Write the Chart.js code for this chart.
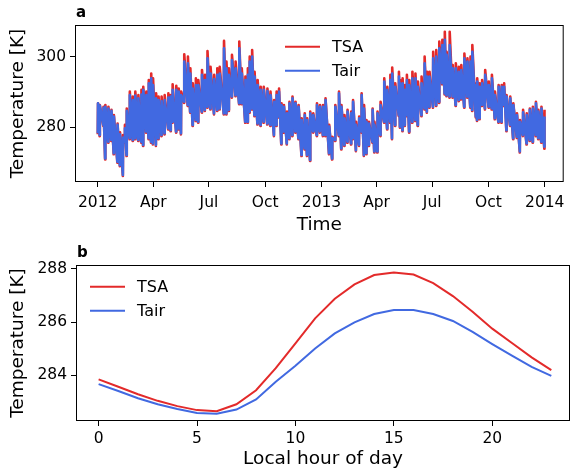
<!DOCTYPE html>
<html>
<head>
<meta charset="utf-8">
<script src="https://cdn.jsdelivr.net/npm/chart.js@4.4.1/dist/chart.umd.min.js"></script>
<style>
  body { margin: 0; background: #fff; }
  #wrap { position: relative; width: 571px; height: 470px; }
  canvas { position: absolute; left: 0; }
</style>
</head>
<body>
<div id="wrap">
  <canvas id="topChart" width="571" height="236" style="top:0"></canvas>
  <canvas id="bottomChart" width="571" height="234" style="top:236px"></canvas>
</div>
<script>
const days = [0,3,9,12,17,22,26,32,36,41,
  44,47,52,57,61,66,71,74,79,83,
  87,90,95,99,104,109,115,119,122,128,
  132,136,141,147,151,155,160,164,170,175,
  179,184,190,195,199,206,210,214,219,225,
  231,235,241,245,248,252,256,261,266,271,
  277,282,288,292,296,300,304,309,313,318,
  323,328,333,338,342,347,352,358,363,368,
  372,378,383,388,394,398,403,408,414,417,
  422,427,431,435,439,443,449,452,457,462,
  468,473,478,481,486,492,494,498,502,505,
  509,514,519,523,529,534,538,542,548,553,
  558,563,567,570,575,580,585,590,594,599,
  604,609,612,618,620,624,628,633,639,644,
  649,655,660,664,668,674,679,685,690,695,
  701,706,711,716,720,725,730];

const tsaMax = [286.8,286.3,285.8,286.3,285.8,284.9,283.4,281.0,278.5,277.7,
  280.6,285.3,290.1,288.7,290.1,289.1,290.6,291.5,290.1,293.4,
  295.3,293.9,289.6,288.7,288.7,289.1,289.6,289.1,292.2,291.8,
  291.0,290.1,300.8,300.1,296.8,292.5,293.9,293.4,296.3,294.9,
  301.7,297.2,294.9,296.8,297.2,304.6,298.7,296.8,300.6,298.7,
  304.4,296.8,294.4,296.8,300.1,302.0,295.8,293.4,291.5,291.5,
  291.0,290.1,287.7,290.1,291.0,286.8,286.3,284.4,287.2,288.7,
  287.2,286.3,282.5,283.9,282.5,284.4,283.9,286.8,286.3,286.3,
  288.2,280.6,277.2,286.3,290.1,286.3,283.4,284.9,284.4,287.7,
  281.5,283.0,289.6,286.3,282.0,281.5,285.3,281.5,284.4,287.2,
  293.9,291.5,294.9,297.0,292.5,295.8,293.4,293.9,292.0,294.9,
  293.4,295.8,295.3,293.0,294.4,300.1,295.8,295.8,301.5,302.0,
  304.4,304.9,307.2,301.5,307.2,297.7,298.2,297.2,297.7,301.0,
  299.6,300.1,303.4,292.5,293.9,292.5,293.4,296.3,293.0,294.9,
  290.1,292.0,292.0,292.5,289.1,288.7,286.8,283.9,282.0,284.9,
  283.9,285.3,285.8,287.2,284.9,285.8,284.9];

const tsaMin = [277.9,277.4,280.3,270.7,275.5,276.0,272.2,269.8,268.8,266.0,
  275.5,271.7,276.5,276.0,276.5,276.0,275.5,274.6,278.4,276.5,
  275.5,275.0,274.6,276.5,277.4,277.9,279.3,278.8,281.2,278.4,
  279.3,277.9,286.9,286.0,284.1,280.3,281.7,281.2,284.1,284.6,
  285.5,285.0,283.6,284.6,285.0,283.6,283.6,284.6,288.4,288.8,
  286.5,286.5,281.2,281.2,284.1,285.0,283.1,280.7,280.3,281.2,
  280.7,280.3,277.4,280.3,282.7,275.0,278.4,275.0,276.5,277.4,
  278.4,276.5,271.7,273.6,271.7,270.3,278.4,277.4,278.4,277.4,
  277.4,272.2,270.7,276.0,277.4,273.6,274.6,275.5,275.0,276.5,
  273.1,274.6,278.4,271.7,272.2,274.6,275.5,272.7,272.7,277.4,
  281.2,279.3,281.2,276.5,280.3,283.1,279.8,278.8,280.3,283.1,
  278.4,281.2,281.7,280.3,283.1,285.0,284.1,285.5,285.5,286.0,
  286.9,292.2,289.3,288.8,288.4,288.4,286.0,287.4,287.9,285.5,
  288.4,285.5,284.6,282.7,281.7,282.2,286.0,285.0,285.5,285.0,
  282.2,281.2,281.2,286.0,278.8,280.3,276.5,276.9,272.7,277.4,
  275.0,276.0,275.5,277.4,276.5,275.5,273.8];

const tairMax = [286.8,286.1,285.5,285.8,285.3,284.6,283.0,280.6,277.9,277.0,
  279.6,284.6,289.1,287.7,289.0,288.2,289.3,290.6,289.1,292.5,
  293.9,292.0,288.2,287.7,287.4,287.7,288.4,288.7,290.6,290.6,
  290.1,289.1,298.7,298.2,295.3,291.0,292.0,292.0,294.9,293.4,
  299.6,295.3,293.7,294.9,295.3,302.5,296.8,294.9,299.1,296.8,
  302.5,295.3,293.4,294.9,298.7,300.1,294.4,292.0,290.6,290.6,
  290.3,289.1,287.2,289.1,290.1,286.3,285.8,283.9,286.8,288.2,
  286.8,285.8,282.0,283.4,282.0,283.9,283.4,286.3,285.8,285.8,
  287.7,280.1,276.8,285.8,289.6,285.8,282.5,284.4,283.9,287.2,
  280.6,282.5,289.1,285.3,281.5,281.0,284.9,280.6,283.9,286.3,
  293.0,290.6,293.4,295.3,291.5,294.4,292.5,292.5,290.6,293.4,
  292.0,293.9,293.9,291.5,292.5,298.2,294.4,294.4,299.6,300.1,
  302.5,303.4,304.9,300.6,303.4,296.8,296.8,295.8,296.3,299.6,
  298.7,298.7,301.5,292.0,293.0,291.5,292.5,294.9,292.0,293.9,
  289.1,291.5,291.5,291.5,288.7,288.2,286.3,283.4,281.5,284.2,
  283.4,284.9,285.3,286.8,284.4,285.3,283.0];

const tairMin = [278.2,277.7,280.6,271.0,275.8,276.3,272.5,270.1,269.1,266.3,
  275.8,272.0,276.8,276.3,276.8,276.3,275.8,274.9,278.7,276.8,
  275.8,275.3,274.9,276.8,277.7,278.2,279.6,279.1,281.5,278.7,
  279.6,278.2,287.2,286.3,284.4,280.6,282.0,281.5,284.4,284.9,
  285.8,285.3,283.9,284.9,285.3,283.9,283.9,284.9,288.7,289.1,
  286.8,286.8,281.5,281.5,284.4,285.3,283.4,281.0,280.6,281.5,
  281.0,280.6,277.7,280.6,283.0,275.3,278.7,275.3,276.8,277.7,
  278.7,276.8,272.0,273.9,272.0,270.6,278.7,277.7,278.7,277.7,
  277.7,272.5,271.0,276.3,277.7,273.9,274.9,275.8,275.3,276.8,
  273.4,274.9,278.7,272.0,272.5,274.9,275.8,273.0,273.0,277.7,
  281.5,279.6,281.5,276.8,280.6,283.4,280.1,279.1,280.6,283.4,
  278.7,281.5,282.0,280.6,283.4,285.3,284.4,285.8,285.8,286.3,
  287.2,292.5,289.6,289.1,288.7,288.7,286.3,287.7,288.2,285.8,
  288.7,285.8,284.9,283.0,282.0,282.5,286.3,285.3,285.8,285.3,
  282.5,281.5,281.5,286.3,279.1,280.6,276.8,277.2,273.0,277.7,
  275.3,276.3,275.8,277.7,276.8,275.8,274.4];

const timeTickDays = [0, 91, 182, 274, 366, 456, 547, 639, 731];
const timeTickLabels = ['2012', 'Apr', 'Jul', 'Oct', '2013', 'Apr', 'Jul', 'Oct', '2014'];

// ---- panel b: mean diurnal cycle
const hours = [0,1,2,3,4,5,6,7,8,9,10,11,12,13,14,15,16,17,18,19,20,21,22,23];
const tsaDiurnal = [283.84,283.56,283.28,283.03,282.83,282.68,282.64,282.90,283.43,284.26,
  285.20,286.14,286.88,287.42,287.77,287.87,287.79,287.47,286.98,286.39,285.75,285.21,284.67,284.19];
const tairDiurnal = [283.66,283.40,283.13,282.90,282.72,282.57,282.54,282.70,283.08,283.75,
  284.35,285.00,285.57,285.99,286.30,286.45,286.45,286.30,286.04,285.63,285.17,284.73,284.31,283.97];
const hourTicks = [0, 5, 10, 15, 20];

const RED = '#e32a2a';
const BLUE = '#4169e1';

// daily extremes happen around these local hours (panel b)
const minHour = 6;
const maxHour = 15;

function zigzag(lo, hi) {
  const pts = [];
  days.forEach((d, i) => {
    pts.push({ x: d + minHour / 24, y: lo[i] });
    pts.push({ x: d + maxHour / 24, y: hi[i] });
  });
  return pts;
}

Chart.defaults.font.family = "'DejaVu Sans', sans-serif";
Chart.defaults.color = '#000';

// frame, panel letter and legend drawn like the original figure
const panelDecor = {
  id: 'panelDecor',
  afterDatasetsDraw(chart, args, opts) {
    const { ctx, chartArea: a } = chart;
    ctx.save();
    ctx.strokeStyle = '#000';
    ctx.lineWidth = 1;
    ctx.strokeRect(a.left + 0.5, a.top + 0.5, a.right - a.left - 1, a.bottom - a.top - 1);

    ctx.fillStyle = '#000';
    ctx.font = "bold 15px 'DejaVu Sans'";
    ctx.textBaseline = 'alphabetic';
    ctx.textAlign = 'left';
    ctx.fillText(opts.letter, a.left + 1, a.top - 8);

    ctx.font = "16px 'DejaVu Sans'";
    ctx.textBaseline = 'middle';
    chart.data.datasets.forEach((ds, i) => {
      const x0 = a.left + opts.legendX;
      const y = a.top + opts.legendY + i * 24;
      ctx.strokeStyle = ds.borderColor;
      ctx.lineWidth = 2;
      ctx.beginPath();
      ctx.moveTo(x0, y);
      ctx.lineTo(x0 + 35, y);
      ctx.stroke();
      ctx.fillText(ds.label, x0 + 47, y + 1);
    });
    ctx.restore();
  }
};

const tickFont = { size: 15.5 };
const titleFont = { size: 18.5 };
const gridOpts = { drawOnChartArea: false, color: '#000', tickLength: 5, lineWidth: 1 };

new Chart(document.getElementById('topChart'), {
  type: 'line',
  data: {
    datasets: [
      { label: 'TSA', data: zigzag(tsaMin, tsaMax), borderColor: RED, borderWidth: 2.6,
        borderJoinStyle: 'round', pointRadius: 0, order: 2 },
      { label: 'Tair', data: zigzag(tairMin, tairMax), borderColor: BLUE, borderWidth: 2.6,
        borderJoinStyle: 'round', pointRadius: 0, order: 1 }
    ]
  },
  options: {
    responsive: false,
    animation: false,
    devicePixelRatio: 1,
    layout: { padding: { top: 25, right: 1, left: 0, bottom: 0 } },
    plugins: {
      legend: { display: false },
      tooltip: { enabled: false },
      panelDecor: { letter: 'a', legendX: 210, legendY: 21.7 }
    },
    scales: {
      x: {
        type: 'linear', min: -37, max: 762,
        afterBuildTicks: s => { s.ticks = timeTickDays.map(v => ({ value: v })); },
        afterFit: s => { s.height = 54; },
        ticks: { font: tickFont, padding: 6.5, autoSkip: false, maxRotation: 0,
          callback: v => timeTickLabels[timeTickDays.indexOf(v)] },
        grid: gridOpts, border: { display: false },
        title: { display: true, text: 'Time', font: titleFont, padding: { top: 0, bottom: 0 } }
      },
      y: {
        min: 264.29, max: 309.14,
        afterBuildTicks: s => { s.ticks = [280, 300].map(v => ({ value: v })); },
        afterFit: s => { s.width = 75; },
        ticks: { font: tickFont, padding: 4 },
        grid: gridOpts, border: { display: false },
        title: { display: true, text: 'Temperature [K]', font: titleFont, padding: { top: 7, bottom: 0 } }
      }
    }
  },
  plugins: [panelDecor]
});

new Chart(document.getElementById('bottomChart'), {
  type: 'line',
  data: {
    datasets: [
      { label: 'TSA', data: hours.map((h, i) => ({ x: h, y: tsaDiurnal[i] })), borderColor: RED,
        borderWidth: 2, pointRadius: 0, tension: 0 },
      { label: 'Tair', data: hours.map((h, i) => ({ x: h, y: tairDiurnal[i] })), borderColor: BLUE,
        borderWidth: 2, pointRadius: 0, tension: 0 }
    ]
  },
  options: {
    responsive: false,
    animation: false,
    devicePixelRatio: 1,
    layout: { padding: { top: 29, right: 1, left: 0, bottom: 0 } },
    plugins: {
      legend: { display: false },
      tooltip: { enabled: false },
      panelDecor: { letter: 'b', legendX: 14, legendY: 21.7 }
    },
    scales: {
      x: {
        type: 'linear', min: -1.15, max: 23.95,
        afterBuildTicks: s => { s.ticks = hourTicks.map(v => ({ value: v })); },
        afterFit: s => { s.height = 49; },
        ticks: { font: tickFont, padding: 4, autoSkip: false, maxRotation: 0 },
        grid: gridOpts, border: { display: false },
        title: { display: true, text: 'Local hour of day', font: titleFont, padding: { top: 0, bottom: 0 } }
      },
      y: {
        min: 282.27, max: 288.15,
        afterBuildTicks: s => { s.ticks = [284, 286, 288].map(v => ({ value: v })); },
        afterFit: s => { s.width = 76; },
        ticks: { font: tickFont, padding: 4 },
        grid: gridOpts, border: { display: false },
        title: { display: true, text: 'Temperature [K]', font: titleFont, padding: { top: 7, bottom: 0 } }
      }
    }
  },
  plugins: [panelDecor]
});
</script>
</body>
</html>
